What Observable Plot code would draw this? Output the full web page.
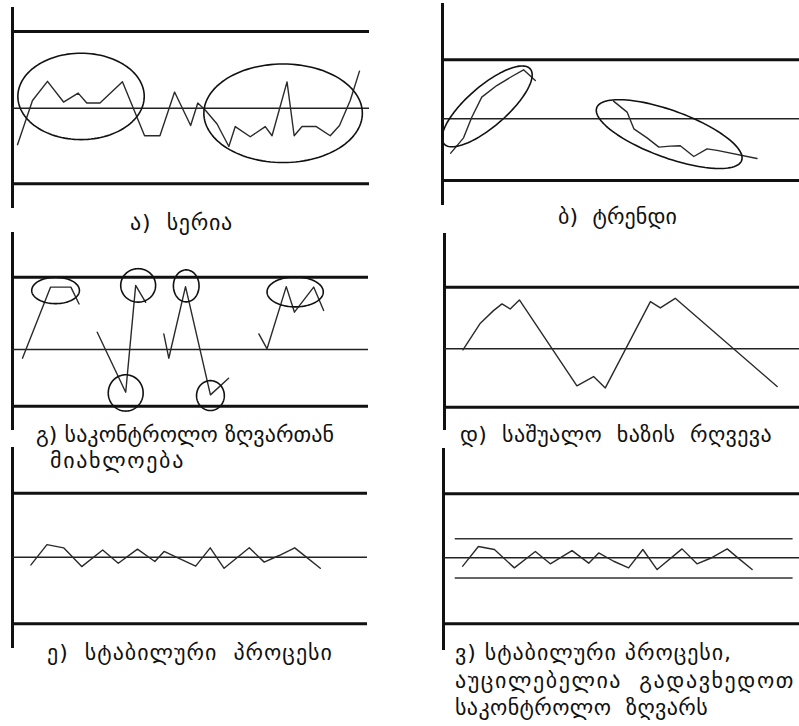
<!DOCTYPE html>
<html><head><meta charset="utf-8">
<script src="https://cdn.jsdelivr.net/npm/d3@7"></script>
<script src="https://cdn.jsdelivr.net/npm/@observablehq/plot@0.6"></script>
<style>
body{margin:0;background:#fff;}
#root{position:relative;width:799px;height:726px;overflow:hidden;background:#fff;}
.panel{position:absolute;overflow:visible;}
.cap{position:absolute;font-family:"DejaVu Sans",sans-serif;font-size:22px;color:#111;white-space:pre;line-height:28px;}
</style></head><body><div id="root"></div>
<script>
// ---- data: time (0..100) and value (sigma units, CL = 0) ----
const a_t = [1.4,5.6,9.8,14.3,18.4,20.8,24.5,30.8,37.0,41.3,45.4,49.9,51.9,54.1,57.3,60.6,62.4,66.6,70.8,72.7,76.9,78.9,81.1,85.1,89.0,91.6,94.6,97.2];
const a_v = [-1.43,0.30,1.05,0.24,0.59,0.20,0.20,1.03,-1.08,-1.08,0.63,-0.68,0.20,-0.09,-0.62,-1.50,-0.72,-1.12,-0.72,-1.08,1.03,-1.08,-0.72,-0.72,-1.08,-0.68,0.30,1.45];
const a_limits = [3, 0, -2.96];
const a_ellipses = [[19.2,0.46,17.7,12.1,0],[75.8,-0.20,22.2,13.8,0]];

const b_t = [2.3,5.9,8.2,11.0,15.2,19.4,22.7,26.0, 47.9,51.7,53.6,57.3,60.6,63.8,66.6,70.4,74.1,76.9,88.1];
const b_v = [-1.75,-0.97,0.08,1.10,1.69,2.15,2.49,1.95, 0.90,0.34,-0.51,-0.97,-1.44,-1.39,-1.37,-1.92,-1.53,-1.61,-2.02];
const b_seg = [0,0,0,0,0,0,0,0, 1,1,1,1,1,1,1,1,1,1,1];
const b_limits = [3, 0, -3.14];
const b_ellipses = [[12.5,0.63,16.0,5.6,41],[63.5,-0.78,21.6,6.6,-20]];

const c_t = [2.8,10.7,16.4,18.7, 23.8,31.8,34.6,37.4, 42.5,43.9,48.6,55.6,60.7, 69.2,71.5,76.9,79.2,84.6,87.4];
const c_v = [-0.36,2.59,2.59,1.89, 0.72,-1.77,2.66,1.96, 0.65,-0.36,2.61,-1.88,-1.19, 0.65,0.03,2.61,1.55,2.59,1.62];
const c_seg = [0,0,0,0, 1,1,1,1, 2,2,2,2,2, 3,3,3,3,3,3];
const c_limits = [3, 0, -2.35];
const c_ellipses = [[12.1,2.45,6.7,3.7,0],[35.3,2.66,4.9,4.7,0],[48.8,2.64,3.6,4.5,0],[79.4,2.39,7.9,4.2,0],[31.8,-1.80,4.9,5.1,0],[55.6,-1.91,3.9,4.2,0]];

const d_t = [5.2,10.1,13.8,16.2,18.5,21.1,37.3,42.0,45.3,58.0,60.8,65.0,93.7];
const d_v = [-0.05,1.25,1.86,2.19,1.94,2.38,-1.80,-1.35,-1.90,2.30,1.99,2.46,-1.83];
const d_limits = [3, 0, -2.84];

const e_t = [5.2,9.7,14.4,19.5,25.4,29.8,35.2,40.1,42.7,46.9,51.6,55.7,59.6,66.7,70.9,75.1,79.5,82.6,86.7];
const e_v = [-0.36,0.59,0.44,-0.44,0.34,-0.28,0.38,-0.20,0.27,-0.05,-0.42,0.44,-0.52,0.44,-0.23,0.08,0.44,0.03,-0.52];
const e_limits = [3, 0, -3.12];

const f_t = [5.4,9.8,14.3,19.9,25.8,30.0,36.1,40.8,43.6,47.8,52.0,56.0,60.0,67.0,71.2,75.0,79.7,82.7,86.7];
const f_v = [-0.39,0.53,0.39,-0.47,0.30,-0.28,0.34,-0.25,0.23,-0.16,-0.47,0.39,-0.55,0.42,-0.28,-0.02,0.42,0.00,-0.55];
const f_limits = [3, 0, -3.09];
const f_inner = [0.89, -0.94];
const f_inner_span = [3.3, 98.2];

const captions_a = ["ა)  სერია"];
const captions_b = ["ბ)  ტრენდი"];
const captions_c = ["გ) საკონტროლო ზღვართან", "მიახლოება"];
const captions_d = ["დ)  საშუალო  ხაზის  რღვევა"];
const captions_e = ["ე)  სტაბილური  პროცესი"];
const captions_f = ["ვ) სტაბილური პროცესი,", "აუცილებელია  გადავხედოთ", "საკონტროლო  ზღვარს"];

// ---- layout (pixels): caption left, right, vertical centre ----
const panels = [
  {t:a_t, v:a_v, seg:null, lim:a_limits, ell:a_ellipses, box:{axisX:12, top:7, bottom:208, end:369, ucl:31, lcl:183.3}, cap:captions_a, capPos:[[130,233,225]]},
  {t:b_t, v:b_v, seg:b_seg, lim:b_limits, ell:b_ellipses, box:{axisX:442, top:3, bottom:205, end:799, ucl:59.3, lcl:180}, cap:captions_b, capPos:[[558,677,219]]},
  {t:c_t, v:c_v, seg:c_seg, lim:c_limits, ell:c_ellipses, box:{axisX:12, top:232, bottom:430, end:368, ucl:276.7, lcl:405.7}, cap:captions_c, capPos:[[36,334,437],[50,185,463]]},
  {t:d_t, v:d_v, seg:null, lim:d_limits, ell:[], box:{axisX:444, top:233, bottom:430, end:799, ucl:286.7, lcl:406.7}, cap:captions_d, capPos:[[460,772,437]]},
  {t:e_t, v:e_v, seg:null, lim:e_limits, ell:[], box:{axisX:12, top:447, bottom:648, end:367, ucl:492.7, lcl:623.3}, cap:captions_e, capPos:[[47,333,655]]},
  {t:f_t, v:f_v, seg:null, lim:f_limits, ell:[], inner:f_inner, box:{axisX:443, top:448, bottom:650, end:799, ucl:493.3, lcl:623.3}, cap:captions_f, capPos:[[455,732,655],[455,795,683],[455,708,710]]}
];

function ellipsePts(e, kx, ky, id) {
  const [cx, cy, a, b, deg] = e; const th = deg * Math.PI / 180;
  const pts = [];
  for (let i = 0; i <= 120; i++) {
    const t = i / 120 * 2 * Math.PI;
    const ux = a * kx * Math.cos(t), uy = b * kx * Math.sin(t);
    const px = ux * Math.cos(th) - uy * Math.sin(th);
    const py = ux * Math.sin(th) + uy * Math.cos(th);
    pts.push({x: cx + px / kx, y: cy + py / ky, id});
  }
  return pts;
}

const root = document.getElementById("root");
for (const p of panels) {
  const b = p.box;
  const W = b.end - b.axisX + 3, H = b.bottom - b.top;
  const kx = (W - 3) / 100;
  const ky = (b.lcl - b.ucl) / (p.lim[0] - p.lim[2]);
  const idx = p.t.map((_, i) => i);
  const ellData = p.ell.flatMap((e, i) => ellipsePts(e, kx, ky, i));
  const marks = [
    Plot.ruleX([0], {stroke: "#111", strokeWidth: 3}),
    Plot.ruleY([p.lim[0], p.lim[2]], {stroke: "#111", strokeWidth: 3}),
    Plot.ruleY([p.lim[1]], {stroke: "#222", strokeWidth: 1.5})
  ];
  if (p.inner) marks.push(Plot.ruleY(p.inner, {x1: f_inner_span[0], x2: f_inner_span[1], stroke: "#333", strokeWidth: 1.5}));
  marks.push(Plot.line(idx, {x: i => p.t[i], y: i => p.v[i], z: p.seg ? (i => p.seg[i]) : null, stroke: "#2a2a2a", strokeWidth: 1.4}));
  if (ellData.length) marks.push(Plot.line(ellData, {x: "x", y: "y", z: "id", stroke: "#111", strokeWidth: 1.6, curve: "linear"}));
  const svg = Plot.plot({
    width: W, height: H, marginTop: 0, marginBottom: 0, marginRight: 0, marginLeft: 3,
    style: {background: "transparent", overflow: "visible"},
    x: {domain: [0, 100], range: [3, W], axis: null},
    y: {domain: [p.lim[2], p.lim[0]], range: [b.lcl - b.top, b.ucl - b.top], axis: null},
    marks
  });
  svg.classList.add("panel");
  svg.style.left = (b.axisX - 3) + "px";
  svg.style.top = b.top + "px";
  root.appendChild(svg);
  p.cap.forEach((txt, i) => {
    const [x0, x1, yc] = p.capPos[i];
    const d = document.createElement("div");
    d.className = "cap";
    d.textContent = txt;
    d.style.left = x0 + "px";
    d.style.top = (yc - 16) + "px";
    root.appendChild(d);
    const natural = d.getBoundingClientRect().width;
    const n = Array.from(txt).length;
    if (n > 1) d.style.letterSpacing = Math.max(-1, (x1 - x0 - natural) / n) + "px";
  });
}
</script></body></html>
